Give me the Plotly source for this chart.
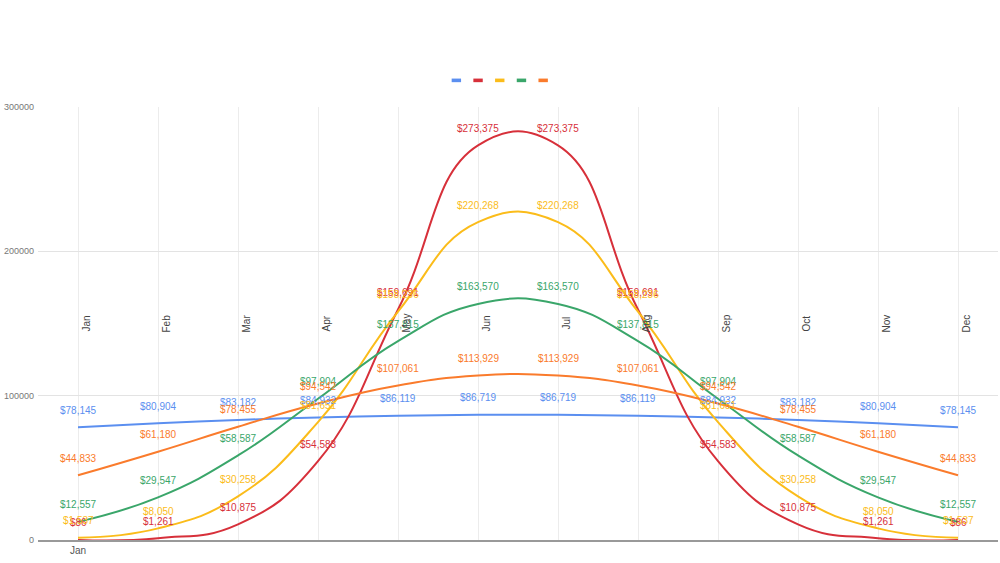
import plotly.graph_objects as go

months = ["Jan", "Feb", "Mar", "Apr", "May", "Jun", "Jul", "Aug", "Sep", "Oct", "Nov", "Dec"]
month_idx = list(range(1, 13))

blue_vals = [78145, 80904, 83182, 84932, 86119, 86719, 86719, 86119, 84932, 83182, 80904, 78145]
red_vals = [86, 1261, 10875, 54583, 159691, 273375, 273375, 159691, 54583, 10875, 1261, 86]
yellow_vals = [1537, 8050, 30258, 81651, 158236, 220268, 220268, 158236, 81651, 30258, 8050, 1537]
green_vals = [12557, 29547, 58587, 97904, 137815, 163570, 163570, 137815, 97904, 58587, 29547, 12557]
orange_vals = [44833, 61180, 78455, 94542, 107061, 113929, 113929, 107061, 94542, 78455, 61180, 44833]

series = [
    ("Series 1", blue_vals, "#5B8FF0"),
    ("Series 2", red_vals, "#D7303A"),
    ("Series 3", yellow_vals, "#FBBC1A"),
    ("Series 4", green_vals, "#3AA66A"),
    ("Series 5", orange_vals, "#FA7B2C"),
]

y_ticks = [0, 100000, 200000, 300000]

FONT = "Liberation Sans, Arial, sans-serif"

fig = go.Figure()
annotations = []
for name, vals, color in series:
    fig.add_trace(go.Scatter(
        x=month_idx, y=vals, mode="lines", name=name,
        line=dict(color=color, width=2, shape="spline", smoothing=1.3),
        showlegend=False, hoverinfo="skip",
    ))
    for xi, v in zip(month_idx, vals):
        annotations.append(dict(
            x=xi, y=v, xref="x", yref="y", text=f"${v:,}", showarrow=False,
            yshift=17, font=dict(family=FONT, size=10, color=color),
        ))

for xi, m in zip(month_idx, months):
    annotations.append(dict(
        x=xi, y=0.5, xref="x", yref="paper", text=m, showarrow=False,
        textangle=-90, xshift=8, font=dict(family=FONT, size=10, color="#444"),
    ))

# legend swatches (no text)
shapes = []
legend_center = 0.481
legend_step = 21.7 / 960
for i, (name, vals, color) in enumerate(series):
    xc = legend_center + (i - 2) * legend_step
    shapes.append(dict(
        type="rect", xref="paper", yref="paper", xsizemode="pixel", ysizemode="pixel",
        xanchor=xc, yanchor=1.0615, x0=-4.7, x1=4.7, y0=-1.8, y1=1.8,
        fillcolor=color, line=dict(width=0),
    ))

fig.update_layout(
    width=1000, height=563,
    margin=dict(l=38, r=2, t=107, b=23, autoexpand=False),
    paper_bgcolor="white", plot_bgcolor="white",
    annotations=annotations, shapes=shapes,
    showlegend=False,
    xaxis=dict(
        range=[0.5, 12.5], tickvals=month_idx,
        ticktext=["Jan"] + [""] * 11, automargin=False,
        showgrid=True, gridcolor="#ececec", gridwidth=1,
        zeroline=False, showline=True, linecolor="#999", linewidth=2,
        ticks="", tickfont=dict(family=FONT, size=10, color="#555"),
    ),
    yaxis=dict(
        range=[0, 300000], tickvals=y_ticks, automargin=False,
        ticktext=[str(t) for t in y_ticks], ticklabelstandoff=3,
        showgrid=True, gridcolor="#e3e3e3", gridwidth=1,
        zeroline=False, showline=False, ticks="",
        tickfont=dict(family=FONT, size=9, color="#777"),
    ),
)

fig.write_html(
    "out.html",
    config={"displayModeBar": False},
    post_script="document.body.style.margin='0';document.body.style.overflow='hidden';",
)
